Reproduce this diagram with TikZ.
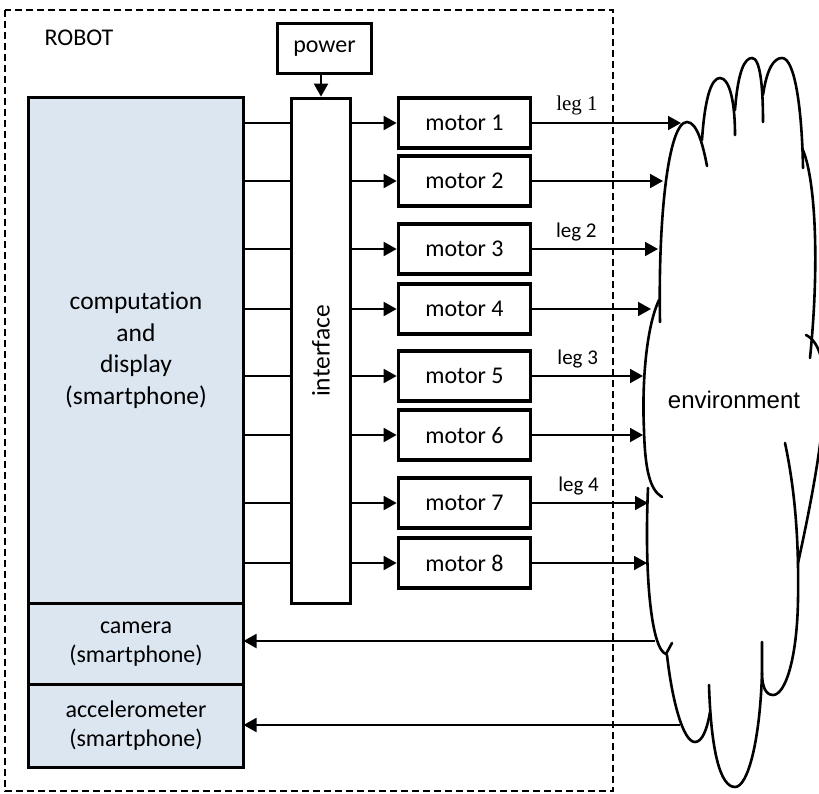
\documentclass[tikz,border=0pt]{standalone}
\usepackage{fontspec}
\setmainfont{Carlito}[Ligatures=NoCommon]
\newfontfamily\envfont{Liberation Sans}
\newfontfamily\legfont{Liberation Serif}
\usetikzlibrary{arrows.meta, positioning, calc}
\definecolor{phoneblue}{RGB}{220,230,241}

\begin{document}
\begin{tikzpicture}[x=0.5pt, y=-0.5pt,
  box/.style={draw, line width=1.85pt, align=center, inner sep=1pt,
              font=\fontsize{12}{14.5}\selectfont},
  phone/.style={box, fill=phoneblue, minimum width=107.5pt, outer sep=0pt},
  motor/.style={box, minimum width=66pt, minimum height=25pt},
  arr/.style={line width=0.95pt, -{Triangle[length=6.5pt, width=7pt]}},
  wire/.style={line width=0.95pt},
  lbl/.style={font=\fontsize{10.5}{12}\selectfont, inner sep=3.5pt},
  frame/.style={line width=0.75pt, dash pattern=on 3.5pt off 2pt},
  cloudline/.style={line width=1.3pt, line cap=round}
]
\useasboundingbox (0,0) rectangle (819,793);

% robot boundary
\draw[frame] (5,10) rectangle (613,791);
\node[font=\fontsize{12}{14}\selectfont] (robot) at (79,38) {ROBOT};

% smartphone parts
\node[phone, minimum height=253pt, font=\fontsize{12.75}{15.75}\selectfont] (comp) at (136,350.5)
  {computation\\and\\display\\(smartphone)};
\node[phone, minimum height=40.5pt, below=0pt of comp] (cam) {camera\\(smartphone)};
\node[phone, minimum height=41.5pt, below=0pt of cam] (acc) {accelerometer\\(smartphone)};

% interface and power
\node[box, minimum width=29.5pt, minimum height=252.5pt, font=\fontsize{12.75}{15}\selectfont]
  (iface) at (321,351) {\rotatebox{90}{interface}};
\node[box, minimum width=47pt, minimum height=25pt] (power) at (324.5,48.5) {power};

% motors
\node[motor] (m1) at (464.5,123) {motor 1};
\node[motor] (m2) at (464.5,181) {motor 2};
\node[motor] (m3) at (464.5,249) {motor 3};
\node[motor] (m4) at (464.5,309) {motor 4};
\node[motor] (m5) at (464.5,376) {motor 5};
\node[motor] (m6) at (464.5,435) {motor 6};
\node[motor] (m7) at (464.5,503) {motor 7};
\node[motor] (m8) at (464.5,563) {motor 8};

% environment
\node[font=\envfont\fontsize{12}{14}\selectfont] (env) at (734,400) {environment};
\coordinate (env1) at (681,123);
\coordinate (env2) at (663,181);
\coordinate (env3) at (658,249);
\coordinate (env4) at (651,309);
\coordinate (env5) at (643,376);
\coordinate (env6) at (643,435);
\coordinate (env7) at (648,503);
\coordinate (env8) at (647,563);
\coordinate (envcam) at (655,641);
\coordinate (envacc) at (680,725);

\draw[cloudline] (660,322) .. controls (658,220) and (668,122) .. (687,122)
                           .. controls (697,122) and (703,145) .. (707,166);
\draw[cloudline] (702,140) .. controls (705,95) and (712,78) .. (720,78)
                           .. controls (729,78) and (735,100) .. (735,135);
\draw[cloudline] (735,110) .. controls (738,70) and (745,58) .. (752,58)
                           .. controls (760,58) and (763,85) .. (763,122);
\draw[cloudline] (763,95) .. controls (767,68) and (774,58) .. (782,58)
                          .. controls (795,58) and (802,110) .. (803,168);
\draw[cloudline] (802,148) .. controls (815,175) and (820,260) .. (810,358);
\draw[cloudline] (806,335) .. controls (836,350) and (826,435) .. (798,563);
\draw[cloudline] (785,443) .. controls (795,490) and (799,540) .. (798,600)
                           .. controls (797,660) and (785,695) .. (773,695)
                           .. controls (765,695) and (762,685) .. (762,673);
\draw[cloudline] (762,642) -- (762,673) .. controls (760,740) and (748,787) .. (735,787)
                           .. controls (720,787) and (711,750) .. (709,685);
\draw[cloudline] (710,712) .. controls (707,730) and (702,742) .. (695,742)
                           .. controls (683,742) and (672,700) .. (667,655);
\draw[cloudline] (648,488) .. controls (644,580) and (652,650) .. (666,654) -- (672,643);
\draw[cloudline] (659,300) .. controls (645,330) and (642,390) .. (644,430)
                           .. controls (645,470) and (650,490) .. (662,497);

% power feed
\draw[arr] (power.south -| iface.north) -- (iface.north);

% control lines
\draw[wire] (comp.east |- m1) -- (iface.west |- m1);
\draw[wire] (comp.east |- m2) -- (iface.west |- m2);
\draw[wire] (comp.east |- m3) -- (iface.west |- m3);
\draw[wire] (comp.east |- m4) -- (iface.west |- m4);
\draw[wire] (comp.east |- m5) -- (iface.west |- m5);
\draw[wire] (comp.east |- m6) -- (iface.west |- m6);
\draw[wire] (comp.east |- m7) -- (iface.west |- m7);
\draw[wire] (comp.east |- m8) -- (iface.west |- m8);

\draw[arr] (iface.east |- m1) -- (m1.west);
\draw[arr] (iface.east |- m2) -- (m2.west);
\draw[arr] (iface.east |- m3) -- (m3.west);
\draw[arr] (iface.east |- m4) -- (m4.west);
\draw[arr] (iface.east |- m5) -- (m5.west);
\draw[arr] (iface.east |- m6) -- (m6.west);
\draw[arr] (iface.east |- m7) -- (m7.west);
\draw[arr] (iface.east |- m8) -- (m8.west);

% legs
\draw[arr] (m1.east) -- (env1) node[lbl, pos=0.3, above, font=\legfont\fontsize{10.5}{12}\selectfont] (leg1) {leg 1};
\draw[arr] (m2.east) -- (env2);
\draw[arr] (m3.east) -- (env3) node[lbl, pos=0.35, above] (leg2) {leg 2};
\draw[arr] (m4.east) -- (env4);
\draw[arr] (m5.east) -- (env5) node[lbl, pos=0.41, above] (leg3) {leg 3};
\draw[arr] (m6.east) -- (env6);
\draw[arr] (m7.east) -- (env7) node[lbl, pos=0.4, above] (leg4) {leg 4};
\draw[arr] (m8.east) -- (env8);

% sensing
\draw[arr] (envcam) -- (cam.east |- envcam);
\draw[arr] (envacc) -- (acc.east |- envacc);
\end{tikzpicture}
\end{document}
